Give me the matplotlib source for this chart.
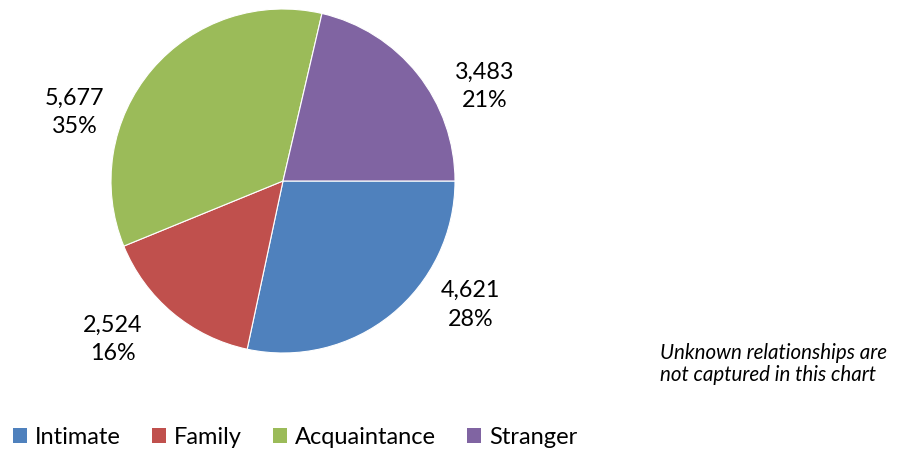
import matplotlib.pyplot as plt
from matplotlib.patches import Patch

# slice data
categories = ['Intimate', 'Family', 'Acquaintance', 'Stranger']
counts = [4621, 2524, 5677, 3483]
percents = ['28%', '16%', '35%', '21%']
colors = ['#4F81BD', '#C0504D', '#9BBB59', '#8064A2']

# where Excel put each data label (in pie-radius units)
label_xy = [(1.09, -0.72), (-0.99, -0.92), (-1.21, 0.40), (1.17, 0.55)]

plt.rcParams['font.family'] = ['Lato', 'DejaVu Sans']

fig = plt.figure(figsize=(8.98, 4.54), dpi=100)
ax = fig.add_axes([111 / 898, (454 - 353) / 454, 344 / 898, 344 / 454])

ax.pie(counts, colors=colors, startangle=0, counterclock=False, radius=1,
       wedgeprops=dict(edgecolor='white', linewidth=0.8))
ax.set_xlim(-1, 1)
ax.set_ylim(-1, 1)
ax.set_aspect('equal')

for c, p, (x, y) in zip(counts, percents, label_xy):
    ax.text(x, y, f'{c:,}\n{p}', ha='center', va='center', fontsize=16.8,
            linespacing=1.45, clip_on=False)

fig.text(660 / 898, 1 - 364 / 454, 'Unknown relationships are\nnot captured in this chart',
         ha='left', va='center', fontsize=14.8, style='italic', linespacing=1.12)

handles = [Patch(facecolor=col, label=cat) for cat, col in zip(categories, colors)]
fig.legend(handles=handles, loc='center left', bbox_to_anchor=(1 / 898, 1 - 437 / 454),
           ncol=4, frameon=False, fontsize=17, handlelength=0.6, handleheight=0.6,
           handletextpad=0.35, columnspacing=1.3, borderpad=0)

fig.savefig('out.png', dpi=100)
